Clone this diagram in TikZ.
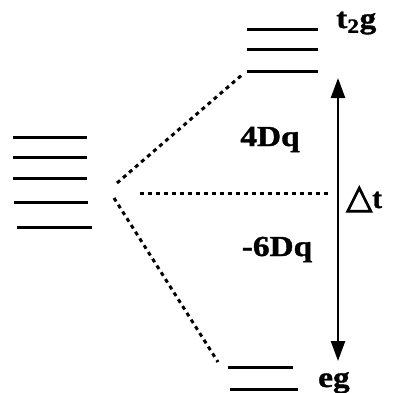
\documentclass[tikz,border=0pt]{standalone}
\usepackage{fontspec}
\setmainfont{Liberation Serif}[BoldFeatures={FakeBold=1.2}]
\newfontfamily\symfont{DejaVu Sans}[FakeBold=3]
\usetikzlibrary{arrows.meta}
\begin{document}
\begin{tikzpicture}[x=1pt,y=-1pt,
  level/.style={line width=3pt},
  dash line/.style={line width=3pt, dash pattern=on 4pt off 4pt},
  lbl/.style={font=\bfseries\fontsize{29}{29}\selectfont, xscale=1.15, inner sep=0pt},
  gap/.style={line width=2.4pt, {Triangle[length=20pt,width=14pt]}-{Triangle[length=20pt,width=14pt]}}]
\useasboundingbox (0,0) rectangle (395,392);
% degenerate levels
\draw[level] (13,137) -- (87,137);
\draw[level] (13,157) -- (87,157);
\draw[level] (13,178) -- (87,178);
\draw[level] (14,202) -- (88,202);
\draw[level] (17,227) -- (92,227);
% t2g levels
\draw[level] (247,29) -- (318,29);
\draw[level] (247,49) -- (318,49);
\draw[level] (247,71) -- (318,71);
% eg levels
\draw[level] (228,367) -- (293,367);
\draw[level] (230,389) -- (298,389);
% connectors
\coordinate (uA) at (117,183);
\coordinate (uB) at (243,74);
\coordinate (lA) at (114,198);
\coordinate (lB) at (218,362);
\coordinate (hA) at (140,193);
\coordinate (hB) at (330,193);
\draw[dash line] (uA) -- (uB);
\draw[dash line] (lA) -- (lB);
\draw[dash line] (hA) -- (hB);
\coordinate (aT) at (338,78);
\coordinate (aB) at (338,361);
\draw[gap] (aT) -- (aB);
% labels
\node[lbl, anchor=base] (d4) at (270,146) {4Dq};
\node[lbl, anchor=base] (d6) at (277,256) {-6Dq};
\node[lbl, anchor=base west] (t2g) at (336,28) {t\textsubscript{2}g};
\node[lbl, anchor=base west] (eg) at (318,387) {eg};
\node[inner sep=0pt, anchor=base west] (dt) at (346,208) {{\symfont\fontsize{34}{34}\selectfont △}{\bfseries\fontsize{29}{29}\selectfont t}};
\end{tikzpicture}
\end{document}
